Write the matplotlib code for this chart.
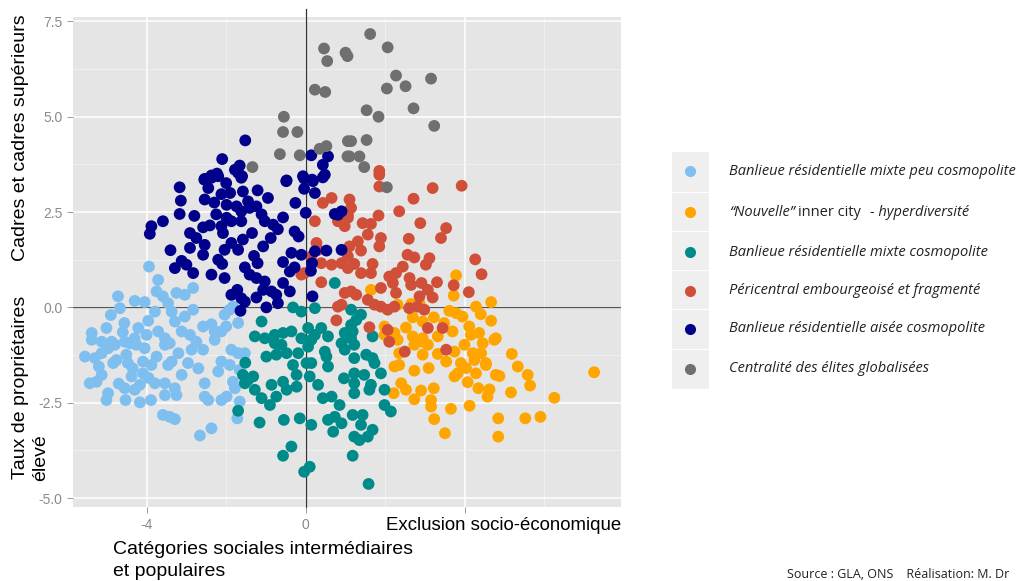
import matplotlib.pyplot as plt
from matplotlib.patches import Rectangle

# cluster coordinates (x = axis 1, y = axis 2)
light_x = [-3.94, -3.71, -4.72, -4.67, -4.3, -4.05, -3.75, -3.59, -3.46, -3.25, -3.04, -2.83, -3.79, -3.96,
           -3.37, -3.29, -3.04, -2.83, -4.56, -5.01, -5.38, -4.21, -4.3, -4.0, -3.71, -3.54, -3.12, -2.91,
           -2.58, -2.37, -2.29, -2.04, -1.91, -1.83, -2.0, -2.12, -1.7, -5.13, -4.88, -4.55,
           -5.55, -5.3, -5.13, -4.97, -4.8, -5.38, -4.84, -4.76, -4.51, -4.47, -4.42, -4.26, -4.05, -4.09,
           -3.88, -3.75, -3.54, -3.42, -3.37, -3.46, -4.09, -2.96, -3.12, -5.13, -5.26, -5.43, -4.97, -5.01,
           -4.55, -4.3, -4.38, -4.17, -4.53, -4.17, -3.89, -3.79, -3.54, -3.54, -3.29, -3.25, -3.59, -3.42,
           -3.29, -2.66, -2.37, -2.87, -2.58, -2.75, -2.29, -2.54, -2.54, -2.45, -2.2, -2.12, -1.91, -1.87,
           -1.7, -1.53, -1.83, -1.78, -1.99, -2.12, -1.66, -1.66, -1.72,
           -4.9, -4.6, -4.35, -3.95, -3.2, -2.7, -5.2, -4.7]
light_y = [1.07, 0.72, 0.29, -0.02, 0.17, 0.14, 0.42, 0.29, 0.11, 0.38, 0.33, 0.51, -0.11, -0.35,
           -0.11, -0.37, -0.24, -0.06, -0.41, -0.54, -0.67, -0.54, -0.81, -0.72, -0.63, -0.81, -0.63, -0.72,
           -0.5, -0.44, -0.63, -0.19, -0.06, 0.02, -0.5, -0.63, -0.41, -0.9, -0.9, -0.9,
           -1.29, -1.33, -1.2, -1.07, -0.98, -0.85, -1.46, -1.38, -1.24, -1.46, -0.94, -0.98, -1.07, -1.42,
           -1.51, -1.29, -0.98, -0.94, -1.42, -1.51, -1.73, -1.46, -1.77, -1.77, -1.95, -1.99, -2.25, -2.43,
           -2.12, -2.16, -1.81, -2.03, -2.43, -2.49, -2.43, -1.99, -1.99, -2.3, -2.12, -2.3, -2.82, -2.87,
           -2.93, -3.36, -3.17, -1.11, -1.11, -0.9, -0.85, -1.99, -2.34, -2.43, -1.68, -1.42, -1.51, -1.11,
           -1.2, -1.2, -1.95, -2.12, -2.34, -2.43, -1.64, -2.47, -2.91,
           -0.2, -0.65, -1.6, -1.85, -1.2, -1.6, -1.55, -2.0]

orange_x = [3.78, 3.72, 1.64, 4.66, 4.28, 4.4, 3.61, 3.78, 3.94, 4.66, 2.65, 2.86, 2.69, 2.94, 3.22, 2.31,
            1.98, 1.98, 2.52, 3.48, 3.69, 4.11, 4.15, 4.36, 4.78, 2.23, 2.31, 2.69, 2.94, 3.32,
            7.25, 6.25, 5.9, 5.52, 4.84, 4.84, 3.5, 3.23, 3.65, 4.12, 5.16, 5.64, 5.58, 5.33, 5.18, 4.87,
            4.78, 4.57, 4.62, 4.34, 4.07, 4.53, 4.28, 3.15, 3.15, 3.22, 2.9, 2.73, 2.52, 2.4, 2.21, 2.73,
            3.09, 2.23, 2.35, 2.35, 2.94, 3.32, 3.53, 2.73, 3.07, 2.94, 3.74, 3.99, 3.9, 4.03, 3.82, 3.74,
            4.24, 4.2, 4.41, 4.53, 4.45, 4.74]
orange_y = [0.84, 0.31, 0.46, 0.14, 0.02, -0.18, -0.09, -0.15, -0.24, -0.35, 0.09, 0.11, -0.26, -0.37, -0.26, 0.07,
            -0.5, -0.72, -0.53, -0.41, -0.63, -0.5, -0.72, -0.67, -0.81, -0.67, -0.85, -0.76, -0.81, -0.76,
            -1.7, -2.37, -2.87, -2.91, -2.91, -3.39, -3.3, -2.93, -2.66, -2.58, -2.23, -2.05, -1.77, -1.55, -1.22, -1.8,
            -1.77, -2.34, -2.15, -2.12, -1.96, -1.46, -1.73, -2.6, -2.43, -2.12, -2.18, -2.41, -2.16, -1.99, -2.25, -1.66,
            -1.59, -1.55, -1.51, -1.2, -1.24, -1.22, -1.42, -0.98, -0.98, -0.9, -1.16, -0.98, -1.46, -1.59, -1.73, -1.81,
            -1.38, -1.2, -1.2, -1.51, -0.94, -0.85]

teal_x = [0.73, -0.32, -0.11, 0.23, -1.11, -1.28, -1.03, -0.78, -0.57, -0.36, 0.06, 0.39, 0.56, -0.11, 0.23, 0.98,
          1.14, 1.39, 1.27, 1.14, 1.18, 1.14, 1.68,
          -1.52, -1.58, -1.45, -1.32, -1.53, -1.28, -1.11, -0.9, -0.99, -0.74, -0.48, -0.32, -0.19, -0.86, -0.57,
          -0.48, -0.23, -0.74, -0.23, 0.02, 0.14, 0.1, 0.31, 0.43, 0.65, 0.52, 0.56, 0.48, 0.96, 0.85, -1.16,
          -0.55, -0.15, 0.14, -1.7, 0.56, 0.73, 0.69, 0.9, -0.36, -0.57, 0.1, -0.04, -0.78, -0.61, 0.06, 0.14,
          0.9, 0.98,
          1.22, 1.22, 1.52, 1.68, 1.73, 1.22, 1.22, 1.47, 1.89, 1.64, 1.6, 1.98, 1.22, 1.98, 2.14, 1.18, 1.43,
          1.39, 1.68, 1.56, 1.35, 1.22, 1.18, 1.58]
teal_y = [0.64, 0.0, -0.11, -0.02, -0.37, -0.76, -0.81, -0.72, -0.67, -0.63, -0.54, -0.54, -0.76, -0.81, -0.72, -0.67,
          -0.06, -0.19, -0.33, -0.46, -0.63, -0.81, -0.76,
          -1.45, -1.77, -1.9, -1.81, -1.99, -2.16, -2.38, -2.56, -1.29, -1.24, -1.2, -1.51, -1.2, -2.03, -1.95,
          -2.16, -2.08, -2.34, -1.77, -1.46, -1.46, -1.81, -2.03, -2.38, -2.34, -1.29, -1.55, -1.16, -1.86, -2.56, -3.02,
          -2.95, -2.91, -3.08, -2.71, -2.95, -2.87, -3.26, -3.04, -3.65, -3.89, -4.18, -4.31, -0.94, -0.98, -1.03, -0.85,
          -0.94, -1.11,
          -0.98, -1.33, -1.24, -1.33, -1.46, -1.73, -1.99, -1.77, -1.73, -2.03, -2.16, -2.16, -2.25, -2.56, -2.73, -2.82, -2.82,
          -3.08, -3.21, -3.39, -3.48, -3.39, -3.89, -4.63]

red_x = [1.85, 0.43, 0.65, 0.23, 0.81, 0.98, 1.06, 0.27, 0.31, 0.14, 0.39, 0.65, 0.9, -0.11, -0.03, 0.39,
         0.98, 0.9, 0.81, 0.77,
         1.85, 1.85, 3.19, 3.92, 2.71, 1.1, 1.14, 1.06, 2.35, 1.83, 1.43, 1.64, 2.88, 1.56, 3.53, 3.4, 2.59,
         1.89, 1.85, 1.31, 1.39, 1.1, 1.06, 2.56, 2.73, 3.11, 3.02, 4.26, 1.22, 1.68, 1.06, 1.39, 1.64, 2.44,
         2.27, 2.1, 4.42, 2.61, 2.65, 2.91, 3.3, 3.72, 1.89, 2.19, 2.27, 1.14, 1.27, 1.56, 1.73, 1.89, 2.06,
         2.23, 3.07, 2.86, 3.19, 4.1, 2.6, 2.81, 2.98, 1.6, 2.06, 3.07, 3.44,
         2.1, 2.49, 3.53]
red_y = [3.58, 2.74, 2.87, 2.26, 2.26, 2.13, 2.35, 1.69, 1.51, 1.34, 1.16, 1.12, 1.16, 0.86, 0.9, 0.66,
         0.38, 0.07, 0.02, -0.34,
         3.48, 3.17, 3.13, 3.19, 2.85, 2.83, 2.61, 2.43, 2.52, 2.41, 2.21, 2.19, 2.21, 1.91, 2.08, 1.82, 1.8,
         1.82, 1.6, 1.73, 1.49, 1.6, 1.34, 1.38, 1.31, 1.29, 1.12, 1.26, 1.14, 1.14, 1.03, 0.9, 0.9, 1.07,
         0.9, 0.81, 0.87, 0.77, 0.59, 0.64, 0.66, 0.58, 0.51, 0.64, 0.38, 0.42, 0.33, 0.2, 0.07, 0.02, -0.06,
         0.02, 0.46, 0.29, 0.26, 0.4, -0.02, 0.02, -0.06, -0.52, -0.59, -0.54, -0.54,
         -0.9, -1.16, -1.11]

navy_x = [-1.52, -2.1, -1.66, -1.78, -1.7, -2.23, -2.37, -2.54, -1.6, 0.14, 0.56, 0.43, 0.48, -0.07, 0.16, -0.48,
          -2.55, -2.37, -2.2, -2.0, -1.62, -3.17, -2.45, -2.12, -1.58, -1.21, -0.49, -0.04, 0.18, 0.43, -0.04,
          0.23, -3.14, -2.54, -1.99, -1.74, -1.45, -1.24, -0.95, -0.26, -3.17, -3.59, -2.25, -1.99, -1.62, -1.41,
          -1.11, -0.57, 0.0, -3.88, -3.92, -2.58, -2.41, -2.12, -1.87, -2.08, -1.62, -1.03, -0.82, -0.28, -0.18,
          -2.91, -2.75, -2.54, -2.91, -2.58, -1.87, -1.7, -1.58, -2.04, -1.07, -0.88, -0.36, -0.11, 0.23, -3.29,
          -3.12, -3.0, -2.83, -2.37, -2.1, -2.04, -1.53, -1.41, -1.21, -1.24, -1.03, -0.57, -0.4, -0.28, 0.16,
          0.13, -1.72, -1.87, -1.62, -1.53, -1.24, -1.07, -0.86, -0.74, -0.57, -0.4, -0.7, -0.99, -1.64, 0.17,
          0.9, 0.81, 0.73, 0.9, 0.52,
          -2.8, -2.3, -1.9, -1.35, -0.7, -3.4, -2.2, -1.3]
navy_y = [4.38, 3.89, 3.72, 3.61, 3.53, 3.51, 3.46, 3.37, 3.44, 3.99, 3.96, 3.74, 3.48, 3.44, 3.35, 3.33,
          3.35, 3.4, 3.44, 3.26, 3.4, 3.15, 3.13, 2.97, 3.04, 3.07, 3.31, 3.38, 3.31, 3.41, 3.11,
          3.0, 2.8, 2.83, 2.69, 2.65, 2.78, 2.65, 2.87, 2.74, 2.45, 2.26, 2.44, 2.35, 2.52, 2.61,
          2.44, 2.36, 2.48, 2.13, 1.93, 2.1, 2.15, 2.13, 2.26, 1.95, 2.26, 2.26, 2.17, 1.99, 1.86,
          1.95, 1.82, 1.64, 1.56, 1.38, 1.69, 1.51, 1.78, 1.51, 1.6, 1.82, 1.43, 1.38, 1.47, 1.03,
          1.22, 1.12, 0.9, 0.86, 1.14, 0.77, 1.05, 0.86, 1.16, 0.77, 0.68, 1.19, 0.94, 1.05, 1.16,
          0.96, 0.46, 0.33, 0.24, 0.15, 0.26, 0.46, 0.42, 0.33, 0.64, 0.42, 0.11, 0.0, -0.09, 0.29,
          2.52, 2.43, 2.45, 1.51, 1.49,
          2.4, 2.75, 3.0, 1.95, 2.05, 1.5, 1.25, 1.35]

grey_x = [0.46, 0.54, 1.0, 1.05, 0.23, 0.49, -0.55, -0.57, -0.21, -0.65, -0.15, 0.35, 0.52, 1.06, 1.05, -1.34,
          1.62, 2.06, 2.27, 2.04, 2.51, 3.15, 1.53, 1.83, 2.71, 3.23, 1.14, 1.53, 1.1, 1.35, 1.47, 2.04]
grey_y = [6.79, 6.46, 6.68, 6.59, 5.71, 5.65, 5.0, 4.6, 4.6, 4.02, 3.99, 4.16, 4.23, 4.36, 3.96, 3.68,
          7.17, 6.82, 6.08, 5.74, 5.8, 6.0, 5.17, 5.0, 5.22, 4.76, 4.36, 4.39, 3.96, 3.96, 3.68, 3.15]

labels = ["Banlieue résidentielle mixte peu cosmopolite",
          "\u201cNouvelle\u201d inner city  - hyperdiversité",
          "Banlieue résidentielle mixte cosmopolite",
          "Péricentral embourgeoisé et fragmenté",
          "Banlieue résidentielle aisée cosmopolite",
          "Centralité des élites globalisées"]
colors = ["#7fbff0", "#ffa500", "#008b8b", "#d04f38", "#00008b", "#6f6f6f"]
series = [(light_x, light_y), (orange_x, orange_y), (teal_x, teal_y),
          (red_x, red_y), (navy_x, navy_y), (grey_x, grey_y)]

fig = plt.figure(figsize=(10.2, 5.81), dpi=100)
ax = fig.add_axes([0.0716, 0.127, 0.537, 0.844])
ax.set_facecolor("#e5e5e5")

# ggplot-like grid
for v in [-4, 0, 4]:
    ax.axvline(v, color="white", lw=1.1, zorder=0)
for v in [-2, 2, 6]:
    ax.axvline(v, color="#f2f2f2", lw=0.6, zorder=0)
for v in [-5, -2.5, 0, 2.5, 5, 7.5]:
    ax.axhline(v, color="white", lw=1.1, zorder=0)
for v in [-3.75, -1.25, 1.25, 3.75, 6.25]:
    ax.axhline(v, color="#f2f2f2", lw=0.6, zorder=0)

ax.axhline(0, color="#555555", lw=0.9, zorder=1)
ax.axvline(0, color="#333333", lw=0.9, zorder=1, ymax=1.015, clip_on=False)

for (xs, ys), c in zip(series, colors):
    ax.scatter(xs, ys, s=72, color=c, edgecolors="none", zorder=3)

ax.set_xlim(-5.85, 7.92)
ax.set_ylim(-5.24, 7.62)
ax.set_xticks([-4, 0, 4])
ax.set_xticklabels(["-4", "0", ""])
ax.set_yticks([-5, -2.5, 0, 2.5, 5, 7.5])
ax.set_yticklabels(["-5.0", "-2.5", "0.0", "2.5", "5.0", "7.5"])
ax.tick_params(colors="#8a8a8a", labelsize=10, length=4, width=0.6)
for lab in ax.get_xticklabels() + ax.get_yticklabels():
    lab.set_fontfamily("Liberation Sans")
for sp in ax.spines.values():
    sp.set_visible(False)

# axis titles
axis_font = dict(family="Liberation Sans", color="black")
fig.text(21 / 1020, 1 - 138 / 581, "Cadres et cadres supérieurs", rotation=90,
         ha="center", va="center", fontsize=14, **axis_font)
fig.text(21 / 1020, 1 - 479 / 581, "Taux de propriétaires", rotation=90,
         ha="center", va="bottom", fontsize=14, **axis_font)
fig.text(41 / 1020, 1 - 481 / 581, "élevé", rotation=90,
         ha="center", va="bottom", fontsize=14, **axis_font)
fig.text(386 / 1020, 1 - 525 / 581, "Exclusion socio-économique",
         ha="left", va="center", fontsize=13.4, **axis_font)
fig.text(113 / 1020, 1 - 549 / 581, "Catégories sociales intermédiaires",
         ha="left", va="center", fontsize=14, **axis_font)
fig.text(113 / 1020, 1 - 571 / 581, "et populaires",
         ha="left", va="center", fontsize=14, **axis_font)

# legend (drawn by hand: one entry mixes italic and upright text)
rows = [171, 212, 252, 291, 329, 369]
edges = [151, 192, 231, 270, 309, 349, 389]
leg_font = dict(family="Open Sans", fontsize=10.5, color="#222222", va="center")
for i, (py, c, lab) in enumerate(zip(rows, colors, labels)):
    top, bot = edges[i] + 0.5, edges[i + 1] - 0.5
    fig.patches.append(Rectangle((672 / 1020, 1 - bot / 581), 37 / 1020, (bot - top) / 581,
                                 transform=fig.transFigure, facecolor="#efefef",
                                 edgecolor="none", zorder=0))
    fig.lines.append(plt.Line2D([690 / 1020], [1 - py / 581], marker="o", markersize=8,
                                color=c, markeredgecolor="none", transform=fig.transFigure))
    if lab.startswith("\u201c"):
        t1 = fig.text(729 / 1020, 1 - py / 581, "\u201cNouvelle\u201d", style="italic", **leg_font)
        t2 = ax.annotate("inner city", xy=(1, 0.5), xycoords=t1, xytext=(2, 0),
                         textcoords="offset points", ha="left", annotation_clip=False, **leg_font)
        ax.annotate("- hyperdiversité", xy=(1, 0.5), xycoords=t2, xytext=(7, 0),
                    textcoords="offset points", ha="left", style="italic",
                    annotation_clip=False, **leg_font)
    else:
        fig.text(729 / 1020, 1 - py / 581, lab, style="italic", **leg_font)

fig.text(787 / 1020, 1 - 575 / 581, "Source : GLA, ONS    Réalisation: M. Dr",
         family="Open Sans", fontsize=9, color="#222222", ha="left", va="center")

fig.savefig("out.png", dpi=100)
